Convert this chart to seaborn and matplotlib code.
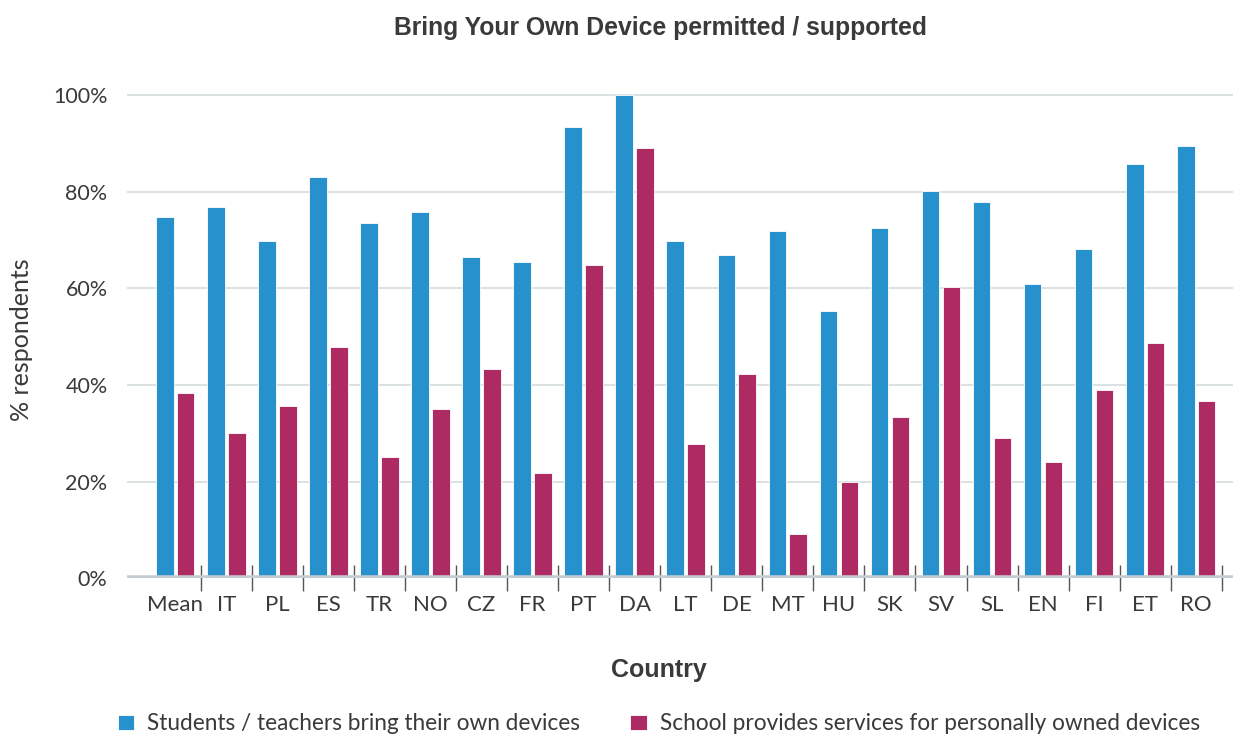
import numpy as np
import pandas as pd
import matplotlib
matplotlib.use("Agg")
import matplotlib.pyplot as plt
import seaborn as sns
from matplotlib.ticker import FixedLocator, PercentFormatter

countries = ["Mean", "IT", "PL", "ES", "TR", "NO", "CZ", "FR", "PT", "DA", "LT",
             "DE", "MT", "HU", "SK", "SV", "SL", "EN", "FI", "ET", "RO"]
students = [74.8, 76.9, 69.8, 83.0, 73.6, 75.8, 66.5, 65.4, 93.5, 100.0, 69.8,
            67.0, 72.0, 55.4, 72.5, 80.2, 78.0, 60.9, 68.1, 85.7, 89.6]
school = [38.4, 30.1, 35.6, 47.8, 25.1, 35.1, 43.3, 21.8, 64.8, 89.0, 27.9,
          42.2, 9.2, 20.0, 33.4, 60.4, 29.0, 24.0, 38.9, 48.8, 36.7]
series_names = ["Students / teachers bring their own devices",
                "School provides services for personally owned devices"]
colors = ["#2791CE", "#AD2A63"]
y_ticks = [0, 20, 40, 60, 80, 100]

df = pd.DataFrame({
    "Country": countries * 2,
    "value": students + school,
    "series": [series_names[0]] * len(countries) + [series_names[1]] * len(countries),
})

sns.set_theme(style="white")
plt.rcParams["font.family"] = ["Lato", "DejaVu Sans"]
text_color = "#3a3a3a"

fig = plt.figure(figsize=(12.33, 7.36), dpi=100)
ax = fig.add_axes([127 / 1233, 0.2143, 1 - 127 / 1233, 0.6628])

sns.barplot(data=df, x="Country", y="value", hue="series", order=countries,
            hue_order=series_names, palette=colors, width=0.82, gap=0.16,
            edgecolor="white", linewidth=0.6, saturation=1, ax=ax, legend=True)

ax.set_xlim(-0.944, 20.72)
ax.set_ylim(0, 101)
ax.set_yticks(y_ticks)
ax.yaxis.set_major_formatter(PercentFormatter(decimals=0))
ax.grid(axis="y", color="#d9dee2", linewidth=1.3, zorder=0)
ax.set_axisbelow(True)
for s in ax.spines.values():
    s.set_visible(False)
ax.axhline(0, color="#c6ccd0", linewidth=4.0, zorder=5)

ax.tick_params(axis="y", length=0, pad=14, labelsize=15.5, labelcolor=text_color)
ax.tick_params(axis="x", which="major", length=0, pad=12, labelsize=16, labelcolor=text_color)
ax.xaxis.set_minor_locator(FixedLocator(np.arange(len(countries)) + 0.5))
ax.tick_params(axis="x", which="minor", direction="inout", length=19, width=1.0,
               color="#555555", bottom=True)
for t in ax.xaxis.get_minor_ticks():
    t.tick1line.set_zorder(6)
ax.set_xlabel("")
ax.set_ylabel("")

fig.text(22 / 1233, 1 - 340 / 736, "% respondents", rotation=90, ha="center",
         va="center", fontsize=18, color=text_color)
fig.text(660 / 1233, 1 - 28 / 736, "Bring Your Own Device permitted / supported",
         ha="center", va="center", fontsize=17.8, fontweight="bold",
         color=text_color, family=["Liberation Sans", "DejaVu Sans"])
fig.text(659 / 1233, 1 - 670 / 736, "Country", ha="center", va="center",
         fontsize=18, fontweight="bold", color=text_color,
         family=["Liberation Sans", "DejaVu Sans"])

handles, labels = ax.get_legend_handles_labels()
ax.get_legend().remove()
leg = fig.legend(handles, labels, loc="center left", ncol=2,
                 bbox_to_anchor=(118 / 1233, 1 - 724 / 736), frameon=False,
                 fontsize=16.3, handlelength=0.72, handleheight=0.68,
                 handletextpad=0.58, columnspacing=2.2, borderaxespad=0,
                 borderpad=0)
for t in leg.get_texts():
    t.set_color(text_color)

fig.savefig("out.png", dpi=100)
